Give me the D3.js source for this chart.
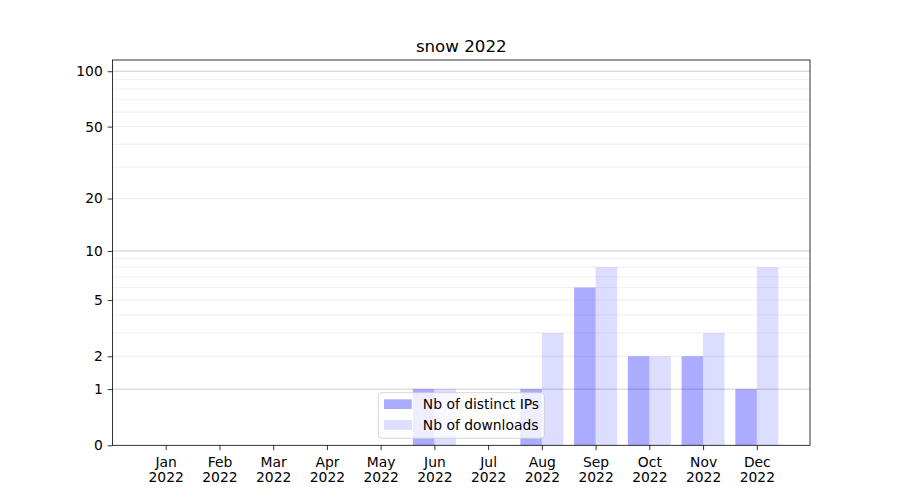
<!DOCTYPE html>
<html><head><meta charset="utf-8">
<script src="https://cdn.jsdelivr.net/npm/d3@7"></script>
<style>body{margin:0;background:#fff}svg{font-family:"DejaVu Sans",sans-serif}</style>
</head><body>
<svg id="c" width="900" height="500"></svg>
<script>
const title = "snow 2022";
const months = ["Jan","Feb","Mar","Apr","May","Jun","Jul","Aug","Sep","Oct","Nov","Dec"];
const yearLabel = "2022";
const distinctIPs = [0,0,0,0,0,1,0,1,6,2,2,1];
const downloads   = [0,0,0,0,0,1,0,3,8,2,3,8];
const seriesNames = ["Nb of distinct IPs","Nb of downloads"];
const yTicks = [0,1,2,5,10,20,50,100];
const majorGrid = [1,10,100];
const minorGrid = [2,3,4,5,6,7,8,9,20,30,40,50,60,70,80,90];

const svg = d3.select("#c");
const L=112.5, R=810, T=60, B=445.3;
const fs = 13.89;
const tk = 4.86;
const x = d3.scaleLinear().domain([-0.99, 11.99]).range([L,R]);
const y = d3.scaleSymlog().constant(1).domain([0,115]).range([B,T]);
const bw = 0.4;

// grid
svg.append("g").selectAll("line").data(minorGrid).join("line")
  .attr("x1",L).attr("x2",R).attr("y1",d=>y(d)).attr("y2",d=>y(d))
  .attr("stroke","#ebebeb").attr("stroke-width",0.8);
svg.append("g").selectAll("line").data(majorGrid).join("line")
  .attr("x1",L).attr("x2",R).attr("y1",d=>y(d)).attr("y2",d=>y(d))
  .attr("stroke","#cccccc").attr("stroke-width",1);

// bars
svg.append("g").selectAll("rect").data(distinctIPs).join("rect")
  .attr("x",(d,i)=>x(i-bw)).attr("width",(d,i)=>x(i)-x(i-bw))
  .attr("y",d=>y(d)).attr("height",d=>y(0)-y(d))
  .attr("fill","blue").attr("fill-opacity",0.33);
svg.append("g").selectAll("rect").data(downloads).join("rect")
  .attr("x",(d,i)=>x(i)).attr("width",(d,i)=>x(i+bw)-x(i))
  .attr("y",d=>y(d)).attr("height",d=>y(0)-y(d))
  .attr("fill","blue").attr("fill-opacity",0.133);

// axes
const yAxis = d3.axisLeft(y).tickValues(yTicks).tickFormat(d3.format("d")).tickSize(tk).tickPadding(tk);
const gy = svg.append("g").attr("transform",`translate(${L},0)`).call(yAxis);
const xAxis = d3.axisBottom(x).tickValues(d3.range(12)).tickFormat(i=>months[i]).tickSize(tk).tickPadding(tk);
const gx = svg.append("g").attr("transform",`translate(0,${B})`).call(xAxis);
[gx,gy].forEach(g=>{
  g.select(".domain").remove();
  g.selectAll("line").attr("stroke","#000").attr("stroke-width",0.8);
  g.selectAll("text").attr("font-size",fs).attr("fill","#000").attr("font-family","DejaVu Sans");
});
gx.selectAll(".tick text").each(function(i){
  const t=d3.select(this); t.text(null).attr("dy",null).attr("y",21.3);
  t.append("tspan").attr("x",0).text(months[i]);
  t.append("tspan").attr("x",0).attr("dy",15.7).text(yearLabel);
});

// frame
svg.append("rect").attr("x",L).attr("y",T).attr("width",R-L).attr("height",B-T)
  .attr("fill","none").attr("stroke","#000").attr("stroke-width",0.8);

// title
svg.append("text").attr("x",(L+R)/2).attr("y",T-8).attr("text-anchor","middle")
  .attr("font-size",16.67).text(title);

// legend
const lg = svg.append("g").attr("transform","translate(378.3,392.7)");
lg.append("rect").attr("width",166).attr("height",45.5).attr("rx",3)
  .attr("fill","#fff").attr("fill-opacity",0.8).attr("stroke","#cccccc").attr("stroke-width",0.8);
const opac=[0.33,0.133];
seriesNames.forEach((n,i)=>{
  const yy = 6.6 + i*20.8;
  lg.append("rect").attr("x",5.7).attr("y",yy).attr("width",27.8).attr("height",9.7)
    .attr("fill","blue").attr("fill-opacity",opac[i]);
  lg.append("text").attr("x",44.5).attr("y",yy+4.85).attr("dy","0.36em")
    .attr("font-size",fs).text(n);
});
</script>
</body></html>
